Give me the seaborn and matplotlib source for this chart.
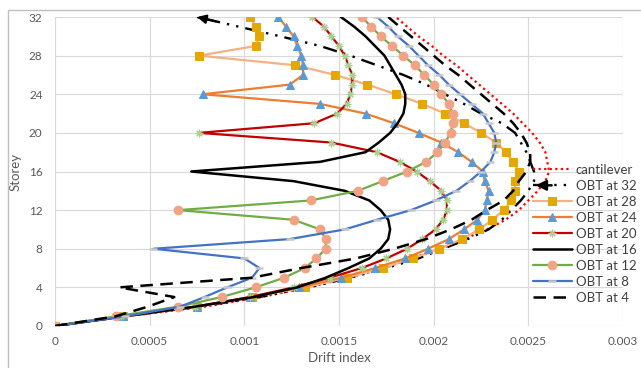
import matplotlib
matplotlib.use("Agg")
import matplotlib.pyplot as plt
import seaborn as sns
import numpy as np
from matplotlib.legend_handler import HandlerLine2D
from matplotlib.patches import FancyArrowPatch, Rectangle

# ---------------- data ----------------
storeys = list(range(33))

cantilever = [0, 0.00038, 0.00079, 0.00109, 0.00134, 0.00155, 0.00174, 0.00188, 0.00204, 0.00216,
              0.00228, 0.00238, 0.00245, 0.00250, 0.00255, 0.00259, 0.00261, 0.00260, 0.00259, 0.00256,
              0.00252, 0.00247, 0.00242, 0.00236, 0.00230, 0.00224, 0.00218, 0.00212, 0.00205, 0.00199,
              0.00192, 0.00186, 0.00180]
obt32 = [0, 0.00037, 0.00076, 0.00108, 0.00134, 0.00156, 0.00175, 0.00192, 0.00205, 0.00218,
         0.00229, 0.00236, 0.00241, 0.00246, 0.00250, 0.00253, 0.00253, 0.00251, 0.00249, 0.00246,
         0.00243, 0.00236, 0.00225, 0.00216, 0.00206, 0.00196, 0.00184, 0.00170, 0.00156, 0.00140,
         0.00119, 0.00097, 0.00075]
obt28 = [0, 0.00036, 0.00075, 0.00104, 0.00132, 0.00154, 0.00173, 0.00189, 0.00203, 0.00215,
         0.00224, 0.00231, 0.00237, 0.00241, 0.00243, 0.00243, 0.00245, 0.00242, 0.00238, 0.00233,
         0.00225, 0.00216, 0.00206, 0.00194, 0.00180, 0.00165, 0.00148, 0.00127, 0.00076, 0.00106,
         0.00108, 0.00106, 0.00103]
obt24 = [0, 0.00036, 0.00075, 0.00103, 0.00129, 0.00151, 0.00169, 0.00185, 0.00197, 0.00208,
         0.00216, 0.00223, 0.00227, 0.00228, 0.00229, 0.00227, 0.00226, 0.00220, 0.00213, 0.00204,
         0.00192, 0.00179, 0.00164, 0.00140, 0.00078, 0.00124, 0.00131, 0.00131, 0.00130, 0.00128,
         0.00126, 0.00122, 0.00118]
obt20 = [0, 0.00035, 0.00074, 0.00103, 0.00126, 0.00145, 0.00162, 0.00175, 0.00186, 0.00194,
         0.00201, 0.00205, 0.00207, 0.00207, 0.00204, 0.00198, 0.00191, 0.00182, 0.00170, 0.00146,
         0.00076, 0.00137, 0.00149, 0.00154, 0.00156, 0.00157, 0.00157, 0.00155, 0.00153, 0.00150,
         0.00146, 0.00142, 0.00136]
obt16 = [0, 0.00036, 0.00074, 0.00105, 0.00128, 0.00143, 0.00155, 0.00166, 0.00172, 0.00176,
         0.00177, 0.00176, 0.00172, 0.00166, 0.00153, 0.00126, 0.00072, 0.00140, 0.00164, 0.00171,
         0.00177, 0.00181, 0.00184, 0.00185, 0.00185, 0.00183, 0.00180, 0.00177, 0.00174, 0.00169,
         0.00164, 0.00158, 0.00151]
obt12 = [0, 0.00032, 0.00065, 0.00088, 0.00106, 0.00121, 0.00132, 0.00138, 0.00143, 0.00143,
         0.00140, 0.00126, 0.00065, 0.00135, 0.00160, 0.00173, 0.00186, 0.00196, 0.00202, 0.00206,
         0.00209, 0.00210, 0.00210, 0.00208, 0.00204, 0.00200, 0.00195, 0.00190, 0.00184, 0.00178,
         0.00172, 0.00167, 0.00162]
obt8 = [0, 0.00037, 0.00066, 0.00079, 0.00091, 0.00104, 0.00108, 0.00100, 0.00052, 0.00124,
        0.00153, 0.00170, 0.00188, 0.00201, 0.00212, 0.00219, 0.00225, 0.00230, 0.00232, 0.00233,
        0.00232, 0.00229, 0.00226, 0.00220, 0.00214, 0.00208, 0.00203, 0.00197, 0.00192, 0.00187,
        0.00181, 0.00176, 0.00170]
obt4 = [0, 0.00032, 0.00049, 0.00063, 0.00034, 0.00104, 0.00130, 0.00159, 0.00179, 0.00196,
        0.00209, 0.00220, 0.00228, 0.00237, 0.00242, 0.00245, 0.00249, 0.00251, 0.00251, 0.00249,
        0.00246, 0.00242, 0.00237, 0.00231, 0.00225, 0.00219, 0.00213, 0.00206, 0.00200, 0.00194,
        0.00188, 0.00182, 0.00176]

x_ticks = [0, 0.0005, 0.001, 0.0015, 0.002, 0.0025, 0.003]
x_tick_labels = ["0", "0.0005", "0.001", "0.0015", "0.002", "0.0025", "0.003"]
y_ticks = [0, 4, 8, 12, 16, 20, 24, 28, 32]

# ---------------- style ----------------
sns.set_theme(style="white")
plt.rcParams["font.family"] = ["Lato", "DejaVu Sans"]

W, H = 641, 368
fig = plt.figure(figsize=(W / 100, H / 100), dpi=100)
ax = fig.add_axes([55 / W, 42 / H, (623 - 55) / W, (326 - 17) / H])

series = [
    ("cantilever", cantilever, dict(color="#FF0000", lw=1.6, linestyle=(0, (1, 1.5)))),
    ("OBT at 32", obt32, dict(color="black", lw=1.7, linestyle=(0, (6, 3, 1, 3, 1, 3)))),
    ("OBT at 28", obt28, dict(color="#F4B183", lw=1.6, marker="s", ms=5.8, mfc="#E5A800", mec="#E5A800")),
    ("OBT at 24", obt24, dict(color="#ED7D31", lw=1.6, marker="^", ms=6.3, mfc="#5B9BD5", mec="#5B9BD5")),
    ("OBT at 20", obt20, dict(color="#C00000", lw=1.6, marker=(8, 2, 0), ms=5.5, mec="#A9D08E", mew=0.8)),
    ("OBT at 16", obt16, dict(color="black", lw=1.8)),
    ("OBT at 12", obt12, dict(color="#70AD47", lw=1.6, marker="o", ms=6.3, mfc="#F2A385", mec="#F2A385")),
    ("OBT at 8", obt8, dict(color="#4472C4", lw=1.6, marker="_", ms=6, mec="#C8C8C8", mew=1.8)),
    ("OBT at 4", obt4, dict(color="black", lw=1.8, linestyle=(0, (5, 3)))),
]

for label, vals, kw in series:
    sns.lineplot(x=vals, y=storeys, sort=False, estimator=None, ax=ax, label=label, **kw)

# arrow head at the top end of "OBT at 32"
tip = (obt32[-1], storeys[-1])
prev = (obt32[-2], storeys[-2])
tail = (tip[0] + 0.45 * (prev[0] - tip[0]), tip[1] + 0.45 * (prev[1] - tip[1]))
ax.annotate("", xy=tip, xytext=tail,
            arrowprops=dict(arrowstyle="-|>", color="black", lw=1.6, mutation_scale=13,
                            shrinkA=0, shrinkB=0))

ax.set_xlim(0, 0.003)
ax.set_ylim(0, 32)
ax.set_xticks(x_ticks)
ax.set_xticklabels(x_tick_labels)
ax.set_yticks(y_ticks)
ax.grid(True, color="#D9D9D9", lw=0.8)
for sp in ax.spines.values():
    sp.set_visible(False)
ax.tick_params(length=0, labelsize=8.5, colors="#595959")
ax.tick_params(axis="x", pad=7)
ax.tick_params(axis="y", pad=9)
ax.set_xlabel("Drift index", fontsize=9.5, color="#595959", labelpad=4)
ax.set_ylabel("Storey", fontsize=9.5, color="#595959", labelpad=5)


class ArrowLineHandler(HandlerLine2D):
    def create_artists(self, legend, orig_handle, xdescent, ydescent, width, height, fontsize, trans):
        arts = super().create_artists(legend, orig_handle, xdescent, ydescent, width, height, fontsize, trans)
        y = (height - ydescent) / 2
        arr = FancyArrowPatch((-xdescent + width * 0.55, y), (-xdescent, y), arrowstyle="-|>",
                              mutation_scale=15, color="black", lw=1.8, transform=trans)
        arts.append(arr)
        return arts


handles, labels = ax.get_legend_handles_labels()
hmap = {handles[1]: ArrowLineHandler()}
leg = ax.legend(handles, labels, loc="upper left", bbox_to_anchor=(533 / W, 1 - 164 / H),
                bbox_transform=fig.transFigure, frameon=False, fontsize=9.5,
                handlelength=2.95, handletextpad=0.3, labelspacing=0.3, borderpad=0,
                borderaxespad=0, handler_map=hmap)
for t in leg.get_texts():
    t.set_color("#404040")

fig.patches.append(Rectangle((8 / W, -0.1), 1.2, 1.1 - 10 / H, transform=fig.transFigure,
                             fill=False, edgecolor="#BFBFBF", lw=1))

fig.savefig("out.png", dpi=100)
